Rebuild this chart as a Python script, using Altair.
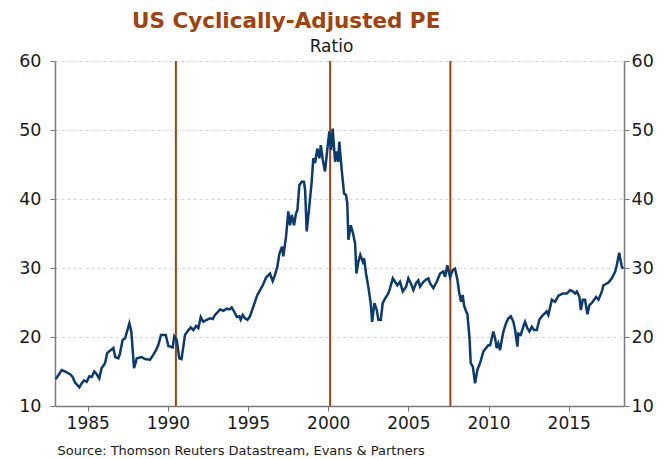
import altair as alt
import pandas as pd

# ---- data ----
years = [1983.0, 1983.10, 1983.38, 1983.58, 1983.90, 1984.06, 1984.21, 1984.48, 1984.63, 1984.77,
         1984.94, 1985.10, 1985.25, 1985.41, 1985.56, 1985.72, 1985.87, 1986.08, 1986.22, 1986.39,
         1986.60, 1986.72, 1986.91, 1987.01, 1987.18, 1987.33, 1987.60, 1987.72, 1987.89, 1988.06,
         1988.37, 1988.57, 1988.89, 1989.09, 1989.26, 1989.40, 1989.57, 1989.87, 1990.03, 1990.30,
         1990.40, 1990.55, 1990.71, 1990.85, 1991.07, 1991.28, 1991.43, 1991.59, 1991.76, 1991.90,
         1992.05, 1992.21, 1992.42, 1992.63, 1992.80, 1992.94, 1993.15, 1993.25, 1993.46, 1993.67,
         1993.83, 1993.98, 1994.13, 1994.30, 1994.46, 1994.54, 1994.67, 1994.81, 1994.96, 1995.12,
         1995.33, 1995.58, 1995.75, 1995.92, 1996.12, 1996.37, 1996.54, 1996.68, 1996.83, 1996.95,
         1997.12, 1997.20, 1997.37, 1997.51, 1997.62, 1997.73, 1997.87, 1997.99, 1998.08, 1998.20,
         1998.35, 1998.49, 1998.56, 1998.66, 1998.82, 1998.97, 1999.07, 1999.18, 1999.32, 1999.45,
         1999.54, 1999.66, 1999.80, 1999.95, 2000.07, 2000.18, 2000.28, 2000.43, 2000.53, 2000.63,
         2000.69, 2000.85, 2000.99, 2001.11, 2001.19, 2001.26, 2001.41, 2001.55, 2001.68, 2001.76,
         2001.88, 2002.00, 2002.16, 2002.24, 2002.36, 2002.50, 2002.65, 2002.74, 2002.88, 2003.03,
         2003.13, 2003.28, 2003.40, 2003.55, 2003.75, 2003.86, 2004.03, 2004.17, 2004.31, 2004.48,
         2004.65, 2004.86, 2005.00, 2005.15, 2005.31, 2005.48, 2005.62, 2005.73, 2005.94, 2006.10,
         2006.25, 2006.35, 2006.56, 2006.77, 2006.98, 2007.18, 2007.29, 2007.43, 2007.60, 2007.77,
         2007.91, 2008.06, 2008.18, 2008.29, 2008.39, 2008.47, 2008.60, 2008.68, 2008.81, 2008.89,
         2009.02, 2009.16, 2009.30, 2009.47, 2009.58, 2009.68, 2009.85, 2009.99, 2010.10, 2010.20,
         2010.30, 2010.41, 2010.51, 2010.61, 2010.72, 2010.83, 2010.93, 2011.09, 2011.24, 2011.39,
         2011.55, 2011.66, 2011.80, 2011.86, 2012.01, 2012.17, 2012.28, 2012.42, 2012.55, 2012.70,
         2012.84, 2013.01, 2013.17, 2013.32, 2013.63, 2013.73, 2013.95, 2014.15, 2014.36, 2014.63,
         2014.88, 2015.09, 2015.26, 2015.40, 2015.51, 2015.67, 2015.76, 2015.88, 2016.02, 2016.17,
         2016.29, 2016.50, 2016.71, 2016.86, 2017.07, 2017.17, 2017.48, 2017.69, 2017.90, 2018.00,
         2018.15, 2018.31, 2018.40]

cape = [13.9, 14.2, 15.2, 15.0, 14.6, 14.2, 13.4, 12.7, 13.3, 13.7,
        13.5, 14.3, 14.2, 15.0, 14.6, 14.0, 15.5, 16.2, 17.7, 18.0,
        18.4, 17.1, 16.9, 17.6, 19.6, 19.8, 22.0, 20.8, 15.5, 16.9,
        17.1, 16.8, 16.7, 17.4, 18.1, 18.8, 20.3, 20.3, 18.7, 18.5,
        20.1, 19.6, 16.9, 16.8, 20.3, 21.0, 21.4, 21.0, 21.6, 21.3,
        22.9, 22.2, 22.5, 22.7, 22.6, 23.2, 23.7, 24.0, 23.8, 24.1,
        24.0, 24.3, 23.7, 22.9, 23.0, 22.5, 23.2, 22.7, 22.5, 23.0,
        24.4, 26.1, 26.8, 27.5, 28.6, 29.2, 28.1, 29.0, 30.2, 32.0,
        33.1, 31.7, 34.5, 38.2, 36.2, 37.7, 36.2, 37.9, 38.4, 42.0,
        42.5, 42.5, 41.3, 35.3, 38.9, 42.5, 45.9, 45.2, 47.3, 45.9,
        47.8, 45.7, 44.0, 47.3, 49.8, 47.1, 50.2, 45.4, 46.9, 45.4,
        48.3, 44.0, 40.8, 40.6, 39.4, 34.1, 36.2, 35.0, 33.5, 29.2,
        30.9, 31.9, 30.9, 31.4, 29.2, 27.3, 24.9, 22.2, 24.9, 23.9,
        22.5, 22.5, 24.9, 25.6, 26.3, 27.1, 28.5, 28.0, 27.5, 28.0,
        26.6, 27.3, 28.5, 27.8, 26.8, 27.8, 28.2, 27.3, 28.0, 28.3,
        28.5, 27.8, 27.1, 28.0, 29.2, 29.5, 28.7, 30.4, 28.7, 29.7,
        29.9, 28.3, 26.3, 25.1, 26.1, 24.6, 23.7, 23.4, 20.0, 16.2,
        15.7, 13.3, 15.2, 16.2, 17.1, 17.9, 18.4, 18.8, 18.8, 19.8,
        20.8, 19.8, 18.4, 19.1, 18.1, 19.6, 20.8, 22.0, 22.7, 23.0,
        22.2, 21.0, 18.6, 20.5, 20.3, 21.5, 22.2, 21.3, 20.8, 21.5,
        21.0, 21.0, 22.5, 23.0, 23.7, 23.2, 25.4, 25.1, 26.0, 26.3,
        26.3, 26.8, 26.6, 26.3, 26.6, 25.8, 23.9, 25.4, 25.4, 23.3,
        24.6, 25.1, 25.8, 25.4, 26.6, 27.5, 27.9, 28.5, 29.5, 30.4,
        32.2, 30.2, 29.9]

marker_years = [1990.5, 2000.12, 2007.62]

x_ticks = [1985, 1990, 1995, 2000, 2005, 2010, 2015]
y_ticks = [10, 20, 30, 40, 50, 60]

x_domain = [1982.96, 2018.45]
y_domain = [10, 60]

df = pd.DataFrame({"year": years, "cape": cape})
rules_df = pd.DataFrame({"year": marker_years,
                         "lo": [y_domain[0]] * len(marker_years),
                         "hi": [y_domain[1]] * len(marker_years)})

FONT = "DejaVu Sans"
BROWN = "#A1410E"
NAVY = "#0B3A6E"
AXIS_GREY = "#7a7a7a"

x_scale = alt.Scale(domain=x_domain, nice=False, zero=False)
y_scale = alt.Scale(domain=y_domain, nice=False, zero=False)

x_axis = alt.Axis(values=x_ticks, format="d", grid=False, domainColor=AXIS_GREY,
                  domainWidth=1.5, tickColor=AXIS_GREY, tickSize=5, labelFont=FONT,
                  labelFontSize=17, labelColor="#1a1a1a", labelPadding=4,
                  title="Source:  Thomson Reuters Datastream, Evans & Partners",
                  titleFont=FONT, titleFontSize=13, titleFontWeight="normal",
                  titleColor="#1a1a1a", titleAnchor="start", titleAlign="left",
                  titleX=2, titleY=48, titleBaseline="alphabetic")

left_axis = alt.Axis(values=y_ticks, grid=True, gridColor="#d8d8d8", gridDash=[3, 3],
                     gridWidth=1, domainColor=AXIS_GREY, domainWidth=1.5,
                     tickColor=AXIS_GREY, tickSize=5, labelFont=FONT, labelFontSize=17.5,
                     labelColor="#1a1a1a", labelPadding=9,
                     title="Ratio", titleAngle=0, titleFont=FONT, titleFontSize=17,
                     titleFontWeight="normal", titleColor="#1a1a1a", titleAlign="center",
                     titleBaseline="alphabetic", titleX=276, titleY=-10)

right_axis = alt.Axis(values=y_ticks, grid=False, orient="right", domainColor=AXIS_GREY,
                      domainWidth=1.5, tickColor=AXIS_GREY, tickSize=5, labelFont=FONT,
                      labelFontSize=17.5, labelColor="#1a1a1a", labelPadding=2, title=None)

line = alt.Chart(df).mark_line(color=NAVY, strokeWidth=2.5).encode(
    x=alt.X("year:Q", scale=x_scale, axis=x_axis),
    y=alt.Y("cape:Q", scale=y_scale, axis=left_axis),
)

rules = alt.Chart(rules_df).mark_rule(color=BROWN, strokeWidth=2).encode(
    x=alt.X("year:Q", scale=x_scale),
    y=alt.Y("lo:Q", scale=y_scale, axis=right_axis),
    y2="hi:Q",
)

chart = alt.layer(rules, line).resolve_scale(y="independent").properties(
    width=569,
    height=345,
    autosize=alt.AutoSizeParams(type="none"),
    padding={"left": 47, "top": 53, "right": 39, "bottom": 52},
    title=alt.TitleParams(text="US Cyclically-Adjusted PE", anchor="start", frame="group",
                          dx=77, offset=5, font=FONT, fontSize=21.5, fontWeight="bold",
                          color=BROWN),
).configure_view(stroke=None)

chart.save("out.html", embed_options={"renderer": "svg", "actions": False})
